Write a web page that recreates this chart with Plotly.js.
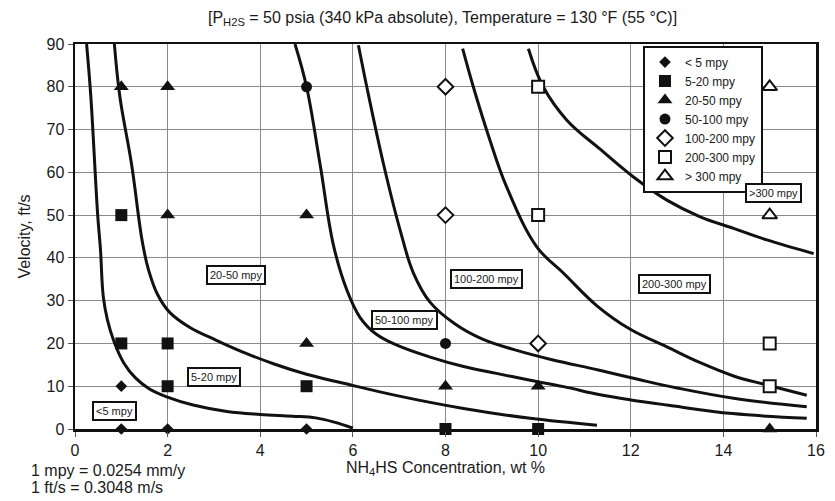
<!DOCTYPE html>
<html>
<head>
<meta charset="utf-8">
<script src="https://cdn.plot.ly/plotly-3.0.1.min.js"></script>
<style>html,body{margin:0;padding:0;background:#fff;}#chart{width:835px;height:501px;}</style>
</head>
<body>
<div id="chart"></div>
<script>
// ---- Data ----
// Boundary curves (NH4HS wt %, velocity ft/s)
const curveA_x = [0.25, 0.34, 0.49, 0.55, 0.61, 0.70, 0.84, 1.05, 1.30, 1.60, 1.98, 2.55, 3.28, 4.0, 4.7, 5.2, 5.6, 6.0];
const curveA_y = [90, 78, 50, 42, 31, 25.5, 20.5, 15.5, 12.0, 9.4, 7.5, 5.6, 4.1, 3.4, 3.0, 2.6, 1.6, 0.2];
const curveB_x = [0.85, 0.97, 1.22, 1.45, 1.58, 1.78, 2.05, 2.5, 3.0, 3.6, 4.3, 5.0, 5.8, 6.95, 8.39, 9.83, 11.27];
const curveB_y = [90, 77.6, 62, 44, 37.5, 31.5, 27.2, 23.6, 21.0, 18.1, 15.2, 12.8, 10.7, 7.8, 4.8, 2.5, 0.9];
const curveC_x = [4.75, 5.0, 5.29, 5.58, 5.87, 6.16, 6.5, 6.95, 7.67, 8.39, 9.1, 9.83, 10.55, 11.34, 12.0, 12.78, 14.2, 15.8];
const curveC_y = [90, 80, 62, 43, 32.5, 26.0, 22.2, 19.6, 16.8, 14.6, 13.0, 11.4, 9.9, 8.0, 6.8, 5.6, 3.6, 2.5];
const curveD_x = [6.12, 6.3, 6.66, 7.02, 7.31, 7.67, 8.2, 8.8, 9.5, 10.3, 11.3, 12.2, 13.0, 14.22, 15.8];
const curveD_y = [89.7, 80, 62, 46.5, 36.4, 29.6, 24.6, 21.0, 18.5, 16.2, 13.8, 11.5, 9.6, 7.2, 5.2];
const curveE_x = [8.37, 8.6, 8.96, 9.32, 9.97, 10.55, 11.27, 11.99, 12.78, 13.5, 14.22, 14.94, 15.8];
const curveE_y = [88.9, 80, 67.5, 56.6, 42.6, 36.4, 28.8, 23.3, 19.2, 15.5, 12.4, 10.3, 7.9];
const curveF_x = [9.79, 10.11, 10.62, 11.34, 12.06, 12.78, 13.5, 14.22, 14.94, 15.95];
const curveF_y = [88.9, 80, 72.2, 65.4, 58.9, 53.5, 49.6, 46.9, 44.2, 41.0];

// Measured points by corrosion rate class
const lt5_x = [1, 2, 5, 1];          const lt5_y = [0, 0, 0, 10];
const r5_20_x = [1, 1, 2, 2, 5, 8, 10];   const r5_20_y = [50, 20, 20, 10, 10, 0, 0];
const r20_50_x = [1, 2, 2, 5, 5, 8, 10, 15]; const r20_50_y = [80, 80, 50, 50, 20, 10, 10, 0];
const r50_100_x = [5, 8];            const r50_100_y = [80, 20];
const r100_200_x = [8, 8, 10];       const r100_200_y = [80, 50, 20];
const r200_300_x = [10, 10, 15, 15]; const r200_300_y = [80, 50, 20, 10];
const gt300_x = [15, 15];            const gt300_y = [80, 50];

const seriesNames = ['< 5 mpy', '5-20 mpy', '20-50 mpy', '50-100 mpy', '100-200 mpy', '200-300 mpy', '> 300 mpy'];

// Region labels
const regionLabels = ['<5 mpy', '5-20 mpy', '20-50 mpy', '50-100 mpy', '100-200 mpy', '200-300 mpy', '>300 mpy'];
const regionLabel_x = [0.86, 3.0, 3.47, 7.11, 8.88, 12.94, 15.08];
const regionLabel_y = [4.2, 12.1, 35.9, 25.5, 35.1, 34.0, 55.1];

const xTicks = [0, 2, 4, 6, 8, 10, 12, 14, 16];
const yTicks = [0, 10, 20, 30, 40, 50, 60, 70, 80, 90];

// ---- Build traces ----
const txt = '#1a1a1a';
const traces = [];
[[curveA_x, curveA_y], [curveB_x, curveB_y], [curveC_x, curveC_y],
 [curveD_x, curveD_y], [curveE_x, curveE_y], [curveF_x, curveF_y]].forEach(c => {
  traces.push({x: c[0], y: c[1], mode: 'lines', line: {color: '#111', width: 3, shape: 'spline', smoothing: 1.1},
               showlegend: false, hoverinfo: 'skip', cliponaxis: false});
});
function pts(x, y, name, symbol, size, open) {
  return {x: x, y: y, mode: 'markers', name: name, cliponaxis: false,
          marker: {symbol: symbol, size: size, color: open ? '#ffffff' : '#111',
                   line: {color: '#111', width: open ? 2 : 0}}};
}
traces.push(pts(lt5_x, lt5_y, seriesNames[0], 'diamond', 9, false));
traces.push(pts(r5_20_x, r5_20_y, seriesNames[1], 'square', 12, false));
traces.push(pts(r20_50_x, r20_50_y, seriesNames[2], 'triangle-up', 13, false));
traces.push(pts(r50_100_x, r50_100_y, seriesNames[3], 'circle', 11, false));
traces.push(pts(r100_200_x, r100_200_y, seriesNames[4], 'diamond', 12, true));
traces.push(pts(r200_300_x, r200_300_y, seriesNames[5], 'square', 12, true));
traces.push(pts(gt300_x, gt300_y, seriesNames[6], 'triangle-up', 13, true));

const annotations = regionLabels.map((t, i) => ({
  text: t, x: regionLabel_x[i], y: regionLabel_y[i], xref: 'x', yref: 'y', showarrow: false,
  font: {family: 'Liberation Sans, Arial, sans-serif', size: 11, color: txt},
  bgcolor: '#ffffff', bordercolor: '#111', borderwidth: 2, borderpad: 2
}));
annotations.push({text: '1 mpy = 0.0254 mm/y', xref: 'paper', yref: 'paper', x: -0.062, y: -0.1065,
  xanchor: 'left', yanchor: 'middle', showarrow: false, font: {size: 16, color: txt}});
annotations.push({text: '1 ft/s = 0.3048 m/s', xref: 'paper', yref: 'paper', x: -0.062, y: -0.153,
  xanchor: 'left', yanchor: 'middle', showarrow: false, font: {size: 16, color: txt}});

const layout = {
  width: 835, height: 501,
  margin: {l: 75, r: 19, t: 44, b: 72},
  paper_bgcolor: '#fff', plot_bgcolor: '#fff',
  font: {family: 'Liberation Sans, Arial, sans-serif', size: 16, color: txt},
  title: {text: '[P<sub>H2S</sub> = 50 psia (340 kPa absolute), Temperature = 130 °F (55 °C)]',
          font: {size: 16, color: txt}, x: 0.53, xanchor: 'center', y: 0.965, yanchor: 'middle'},
  xaxis: {range: [0, 16], tickvals: xTicks, ticktext: xTicks.map(String),
          showgrid: true, gridcolor: '#8a8a8a', gridwidth: 1,
          showline: true, linecolor: '#111', linewidth: 2.5, mirror: true,
          ticks: 'outside', ticklen: 5, tickcolor: '#555', zeroline: false,
          title: {text: 'NH<sub>4</sub>HS Concentration, wt %', font: {size: 16, color: txt}, standoff: 4}},
  yaxis: {range: [0, 90], tickvals: yTicks, ticktext: yTicks.map(String),
          showgrid: true, gridcolor: '#8a8a8a', gridwidth: 1,
          showline: true, linecolor: '#111', linewidth: 2.5, mirror: true,
          ticks: 'outside', ticklen: 5, tickcolor: '#555', zeroline: false,
          title: {text: 'Velocity, ft/s', font: {size: 16, color: txt}, standoff: 12}},
  legend: {x: 0.7665, y: 0.996, xanchor: 'left', yanchor: 'top', bgcolor: '#fff',
           bordercolor: '#111', borderwidth: 2, font: {size: 12, color: txt}, tracegroupgap: 0,
           itemwidth: 30},
  annotations: annotations,
  showlegend: true
};

Plotly.newPlot('chart', traces, layout, {displayModeBar: false, staticPlot: true});
</script>
</body>
</html>
